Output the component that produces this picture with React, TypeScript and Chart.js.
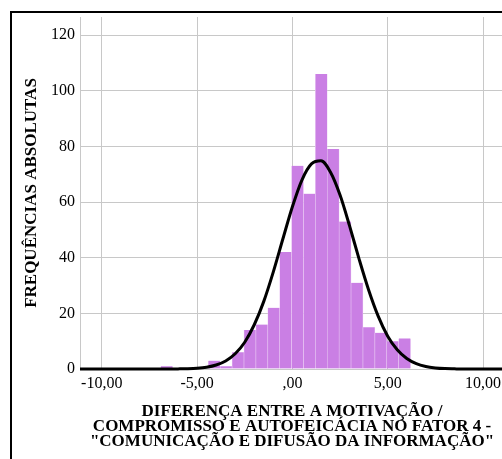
import React, { useEffect, useRef } from "react";
import { Chart, registerables } from "chart.js";

Chart.register(...registerables);

// Histogram bin centres (bin width ≈ 0,624)
const binCenters = [
  -6.594, -5.97, -5.346, -4.722, -4.098, -3.474, -2.85, -2.226, -1.602, -0.978, -0.354,
  0.27, 0.894, 1.518, 2.142, 2.766, 3.39, 4.014, 4.638, 5.262, 5.886, 6.51,
];
const frequencies = [
  1, 0, 0, 0, 3, 1, 6, 14, 16, 22, 42,
  73, 63, 106, 79, 53, 31, 15, 13, 10, 11, 0,
];

// Fitted normal curve
const curveX = [
  -11.14, -10.5, -10, -9.5, -9, -8.5, -8, -7.5, -7, -6.5, -6, -5.5, -5, -4.5, -4, -3.5, -3,
  -2.5, -2, -1.5, -1, -0.5, 0, 0.5, 1, 1.5, 2, 2.5, 3, 3.5, 4, 4.5, 5, 5.5, 6, 6.5, 7, 7.5,
  8, 8.5, 9, 9.5, 10, 10.5, 11.1,
];
const curveY = [
  0, 0, 0, 0, 0, 0, 0, 0, 0, 0, 0.04, 0.11, 0.28, 0.66, 1.43, 2.89, 5.46,
  9.6, 15.9, 24.3, 34.9, 46.7, 58.3, 67.9, 73.7, 74.8, 70.7, 62.5, 51.4, 39.5, 28.4, 19.0, 11.8, 6.9, 3.75, 1.9, 0.9, 0.4,
  0.15, 0.06, 0, 0, 0, 0, 0,
];

const xTickValues = [-10, -5, 0, 5, 10];
const xTickLabels = ["-10,00", "-5,00", ",00", "5,00", "10,00"];
const yTickValues = [0, 20, 40, 60, 80, 100, 120];
const yTickLabels = ["0", "20", "40", "60", "80", "100", "120"];

const xTitle = [
  "DIFERENÇA ENTRE A MOTIVAÇÃO /",
  "COMPROMISSO E AUTOFEICÁCIA NO FATOR 4 -",
  "\"COMUNICAÇÃO E DIFUSÃO DA INFORMAÇÃO\"",
];
const yTitle = "FREQUÊNCIAS ABSOLUTAS";

const FONT = "'Liberation Serif', 'Times New Roman', serif";
const GRID = "#c8c8c8";

export default function App() {
  const ref = useRef<HTMLCanvasElement | null>(null);

  useEffect(() => {
    if (!ref.current) return;
    const chart = new Chart(ref.current, {
      type: "bar",
      data: {
        datasets: [
          {
            type: "line",
            data: curveX.map((x, i) => ({ x, y: curveY[i] })),
            borderColor: "#000000",
            borderWidth: 3,
            pointRadius: 0,
            cubicInterpolationMode: "monotone",
            clip: false,
            order: 1,
          } as any,
          {
            type: "bar",
            data: binCenters.map((x, i) => ({ x, y: frequencies[i] })),
            backgroundColor: "#ca7fe4",
            borderColor: "#e9c9f3",
            borderWidth: { left: 0.6, right: 0.6, top: 0, bottom: 0 },
            borderSkipped: false,
            barPercentage: 1,
            categoryPercentage: 1,
            order: 2,
          } as any,
        ],
      },
      options: {
        animation: false,
        responsive: false,
        devicePixelRatio: 1,
        layout: { padding: { left: 0, top: 17, right: 16, bottom: 0 } },
        plugins: { legend: { display: false }, tooltip: { enabled: false } },
        scales: {
          x: {
            type: "linear",
            min: -11.14,
            max: 11.1,
            offset: false,
            grid: { offset: false, color: GRID, lineWidth: 1, drawTicks: false },
            border: { display: false },
            afterBuildTicks: (s: any) => {
              s.ticks = xTickValues.map((v) => ({ value: v }));
            },
            afterFit: (s: any) => {
              s.height = 90;
            },
            ticks: {
              autoSkip: false,
              maxRotation: 0,
              padding: 5,
              color: "#000",
              font: { family: FONT, size: 16 },
              callback: (v: any) => xTickLabels[xTickValues.indexOf(Number(v))],
            },
            title: {
              display: true,
              text: xTitle,
              color: "#000",
              font: { family: FONT, size: 17, weight: "bold", lineHeight: 15 / 17 },
              padding: { top: 0, bottom: 9.5 },
            },
          },
          y: {
            type: "linear",
            min: 0,
            max: 126.47,
            grid: { color: GRID, lineWidth: 1, drawTicks: false },
            border: { display: true, color: GRID, width: 1 },
            afterBuildTicks: (s: any) => {
              s.ticks = yTickValues.map((v) => ({ value: v }));
            },
            afterFit: (s: any) => {
              s.width = 80;
            },
            ticks: {
              padding: 5,
              color: "#000",
              font: { family: FONT, size: 16 },
              callback: (v: any) => yTickLabels[yTickValues.indexOf(Number(v))],
            },
            title: {
              display: true,
              text: yTitle,
              color: "#000",
              font: { family: FONT, size: 17, weight: "bold", lineHeight: 1.2 },
              padding: { top: 21.8, bottom: 0 },
            },
          },
        },
      } as any,
    });
    return () => chart.destroy();
  }, []);

  return (
    <div
      style={{
        position: "fixed",
        left: 0,
        top: 0,
        width: 502,
        height: 459,
        overflow: "hidden",
        background: "#ffffff",
      }}
    >
      <div
        style={{
          position: "absolute",
          left: 10,
          top: 11,
          width: 560,
          height: 520,
          border: "2px solid #000",
        }}
      />
      <canvas
        ref={ref}
        width={520}
        height={459}
        style={{ position: "absolute", left: 0, top: 0, width: 520, height: 459 }}
      />
    </div>
  );
}
